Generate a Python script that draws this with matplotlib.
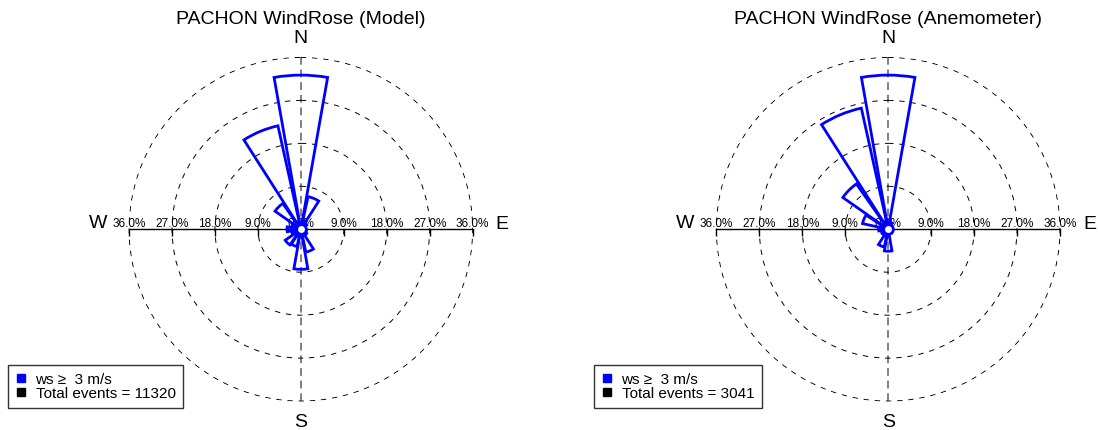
import numpy as np
import matplotlib
matplotlib.use('Agg')
import matplotlib.pyplot as plt
from matplotlib.lines import Line2D

plt.rcParams['font.family'] = ['Liberation Sans', 'DejaVu Sans']

# 16 compass sectors, clockwise from north
directions = ['N', 'NNE', 'NE', 'ENE', 'E', 'ESE', 'SE', 'SSE',
              'S', 'SSW', 'SW', 'WSW', 'W', 'WNW', 'NW', 'NNW']
model_pct = [32.3, 7.0, 1.5, 1.0, 1.0, 1.2, 1.5, 4.9,
             8.4, 3.7, 4.0, 2.0, 2.9, 2.0, 6.6, 22.2]
anem_pct = [32.3, 1.5, 1.0, 0.8, 0.8, 0.8, 0.8, 1.0,
            4.6, 3.8, 1.5, 1.5, 2.0, 5.5, 11.6, 26.0]
titles = ['PACHON WindRose (Model)', 'PACHON WindRose (Anemometer)']
total_events = [11320, 3041]
ring_pct = [9, 18, 27, 36]
ws_min = 3

PX = 0.72  # pixels -> points at dpi 100


def draw_rose(ax, pct, title, n_events, legend_x):
    rmax = ring_pct[-1]
    theta = np.radians(np.arange(len(directions)) * 360 / len(directions))

    ax.set_theta_zero_location('N')
    ax.set_theta_direction(-1)
    ax.set_ylim(0, rmax * 1.004)
    ax.set_yticks(ring_pct)
    ax.set_yticklabels([])
    ax.set_xticks([0, np.pi])
    ax.set_xticklabels([])
    ax.spines['polar'].set_visible(False)
    ax.yaxis.grid(True, color='k', linestyle=(0, (5.5, 6)), linewidth=0.7)
    ax.xaxis.grid(True, color='0.5', linestyle=(0, (4, 2.5)), linewidth=1.4)
    ax.tick_params(length=0)

    # horizontal scale through the centre
    ax.plot([1.5 * np.pi, 1.5 * np.pi, 0.5 * np.pi, 0.5 * np.pi],
            [rmax, 0, 0, rmax], color='k', lw=1, clip_on=False, zorder=2)
    tick_th = [1.5 * np.pi] * len(ring_pct) + [0.5 * np.pi] * len(ring_pct)
    tick_r = ring_pct + ring_pct
    ax.plot(tick_th, tick_r, ls='none', marker=3, ms=5, mew=1, color='k',
            clip_on=False, zorder=2)
    for th, r in zip(tick_th + [0], tick_r + [0]):
        ax.annotate('%.1f%%' % r, (th, r), xytext=(0, 3 * PX),
                    textcoords='offset points', ha='center', va='baseline',
                    fontsize=8.5, zorder=2, annotation_clip=False)

    ax.bar(theta, pct, width=np.radians(20), bottom=0, fill=False,
           edgecolor='blue', linewidth=2.0, zorder=3)
    ax.plot(0, 0, 'o', ms=7, mfc='white', mec='blue', mew=2, zorder=4)

    # compass letters
    for lab, th, off in [('N', 0, (0, 20)), ('E', 0.5 * np.pi, (29.5, 6)),
                         ('S', np.pi, (0, -20)), ('W', 1.5 * np.pi, (-31, 6.5))]:
        ax.annotate(lab, (th, rmax), xytext=(off[0] * PX, off[1] * PX),
                    textcoords='offset points', ha='center', va='center',
                    fontsize=14, annotation_clip=False)

    ax.annotate(title, (0.5, 1), xycoords='axes fraction',
                xytext=(0, 33.5 * PX), textcoords='offset points',
                ha='center', va='baseline', fontsize=14)

    handles = [Line2D([], [], ls='none', marker='s', ms=5.5, color='blue'),
               Line2D([], [], ls='none', marker='s', ms=5.5, color='k')]
    labels = [u'ws \u2265  %d m/s' % ws_min, 'Total events = %d' % n_events]
    leg = ax.figure.legend(handles, labels, loc='lower left',
                           bbox_to_anchor=(legend_x / 1098, 22 / 431),
                           frameon=True, fancybox=False, edgecolor='k',
                           fontsize=11, handlelength=0.7, handletextpad=0.6,
                           labelspacing=0.0, borderpad=0.5,
                           borderaxespad=0)
    leg.get_frame().set_linewidth(1)


fig = plt.figure(figsize=(10.98, 4.31), dpi=100)
ax1 = fig.add_axes([0.1169, 0.0655, 0.3142, 0.8005], projection='polar')
ax2 = fig.add_axes([0.6518, 0.0655, 0.3142, 0.8005], projection='polar')

draw_rose(ax1, model_pct, titles[0], total_events[0], 8)
draw_rose(ax2, anem_pct, titles[1], total_events[1], 594)

fig.savefig('out.png', dpi=100)
